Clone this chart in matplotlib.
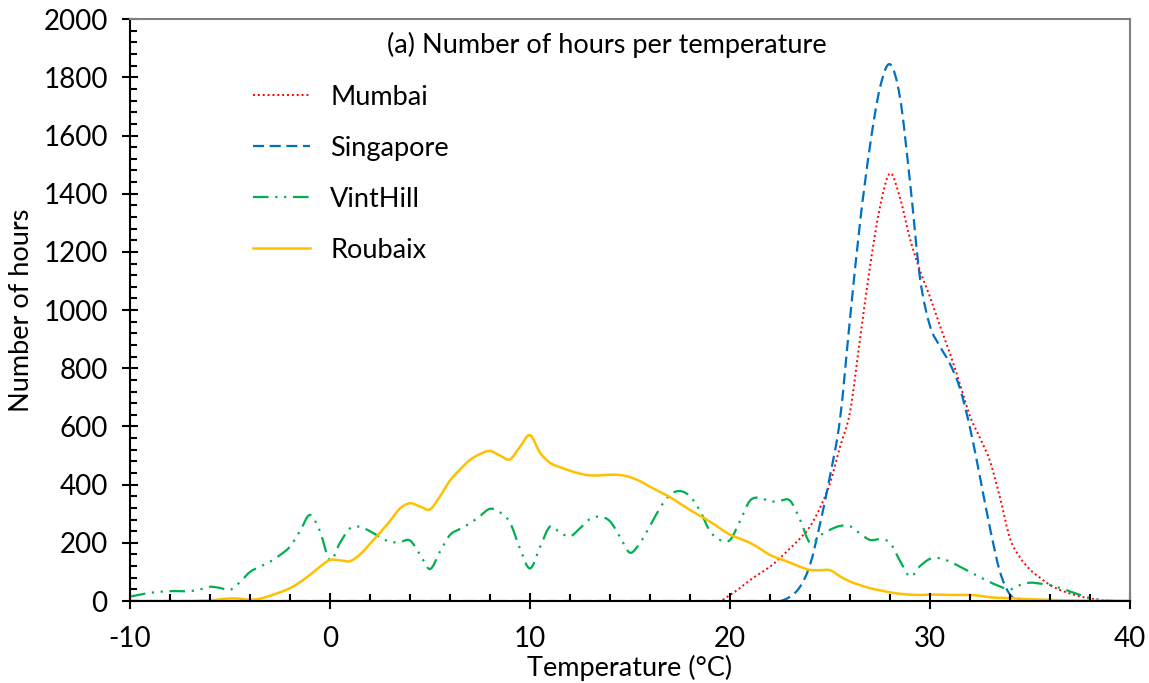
import matplotlib
matplotlib.use("Agg")
import matplotlib.pyplot as plt
from matplotlib.lines import Line2D
from matplotlib.patches import PathPatch
from matplotlib.path import Path
from matplotlib.ticker import MultipleLocator

plt.rcParams["font.family"] = ["Lato", "DejaVu Sans"]
plt.rcParams["axes.unicode_minus"] = False

# temperature bins (degC), 0.5 step
temps = [t / 2 for t in range(-20, 81)]

mumbai = [0] * 60 + [
    21, 45, 72, 95, 118, 148, 181, 215, 256, 320,
    405, 530, 650, 900, 1150, 1355, 1470, 1385, 1245, 1135,
    1045, 945, 850, 745, 635, 560, 480, 355, 215, 150,
    108, 80, 55, 38, 26, 16, 9, 4, 1, 0, 0,
]

singapore = [0] * 66 + [
    15, 49, 124, 265, 430, 625, 970, 1300, 1565, 1765,
    1845, 1730, 1440, 1110, 945, 875, 815, 730, 595, 425,
    250, 100, 22, 3, 0, 0, 0, 0, 0, 0, 0, 0, 0, 0, 0,
]

vinthill = [
    15, 22, 28, 32, 34, 34, 34, 40, 49, 45,
    38, 65, 100, 118, 135, 158, 187, 240, 296, 240,
    140, 200, 250, 255, 240, 220, 203, 203, 208, 160,
    110, 170, 227, 248, 267, 292, 317, 305, 270, 180,
    112, 185, 256, 235, 222, 250, 282, 290, 274, 220,
    166, 200, 258, 320, 365, 378, 360, 310, 240, 210,
    210, 275, 345, 355, 342, 345, 345, 280, 200, 225,
    245, 258, 257, 232, 210, 212, 200, 138, 84, 120,
    145, 147, 135, 118, 100, 82, 65, 50, 40, 55,
    63, 60, 55, 45, 33, 21, 10, 3, 1, 0, 0,
]

roubaix = [
    0, 0, 0, 0, 0, 0, 0, 1, 2, 6,
    9, 8, 4, 8, 18, 30, 44, 65, 90, 118,
    141, 140, 137, 160, 197, 235, 275, 318, 336, 325,
    315, 360, 414, 452, 485, 505, 516, 500, 487, 530,
    570, 510, 475, 460, 448, 438, 432, 432, 434, 433,
    426, 412, 393, 375, 357, 335, 313, 293, 273, 250,
    228, 214, 200, 180, 158, 145, 132, 118, 107, 106,
    106, 85, 67, 55, 44, 37, 30, 25, 22, 21,
    22, 22, 21, 21, 21, 18, 13, 11, 10, 8,
    6, 5, 4, 3, 2, 2, 1, 1, 1, 1, 1,
]

series = [
    ("Mumbai", mumbai, "#FF0000", (0, (1, 1.5)), 1.4),
    ("Singapore", singapore, "#0070C0", (0, (5, 2.5)), 1.6),
    ("VintHill", vinthill, "#00B050", (0, (7, 3, 1, 3, 1, 3)), 1.6),
    ("Roubaix", roubaix, "#FFC000", "-", 1.8),
]


def smooth_path(xs, ys):
    """Excel-like smoothed line: cubic Bezier segments through the points."""
    pts = list(zip(xs, ys))
    verts = [pts[0]]
    codes = [Path.MOVETO]
    n = len(pts)
    for i in range(n - 1):
        p0 = pts[max(i - 1, 0)]
        p1 = pts[i]
        p2 = pts[i + 1]
        p3 = pts[min(i + 2, n - 1)]
        c1 = (p1[0] + (p2[0] - p0[0]) / 6, p1[1] + (p2[1] - p0[1]) / 6)
        c2 = (p2[0] - (p3[0] - p1[0]) / 6, p2[1] - (p3[1] - p1[1]) / 6)
        verts += [c1, c2, p2]
        codes += [Path.CURVE4] * 3
    return Path(verts, codes)


fig = plt.figure(figsize=(11.49, 6.83), dpi=100)
ax = fig.add_axes([0.1131, 0.120, 0.8704, 0.852])

handles = []
for name, vals, color, ls, lw in series:
    patch = PathPatch(smooth_path(temps, vals), facecolor="none", edgecolor=color,
                      linestyle=ls, linewidth=lw)
    ax.add_patch(patch)
    handles.append(Line2D([], [], color=color, linestyle=ls, linewidth=lw, label=name))

ax.set_xlim(-10, 40)
ax.set_ylim(0, 2000)
ax.xaxis.set_major_locator(MultipleLocator(10))
ax.xaxis.set_minor_locator(MultipleLocator(2))
ax.yaxis.set_major_locator(MultipleLocator(200))
ax.yaxis.set_minor_locator(MultipleLocator(40))

ax.tick_params(which="major", direction="inout", length=12, width=1.5,
               labelsize=20)
ax.tick_params(axis="x", which="major", pad=12)
ax.tick_params(axis="y", which="major", pad=10)
ax.tick_params(which="minor", direction="in", length=5, width=1.5)

for side in ["left", "bottom"]:
    ax.spines[side].set_linewidth(1.5)
    ax.spines[side].set_color("black")
for side in ["top", "right"]:
    ax.spines[side].set_linewidth(1.5)
    ax.spines[side].set_color("#808080")

ax.set_xlabel("Temperature (°C)", fontsize=19.5, labelpad=2)
ax.set_ylabel("Number of hours", fontsize=19.5, labelpad=7)

ax.text(0.477, 0.955, "(a) Number of hours per temperature", transform=ax.transAxes,
        fontsize=19.5, ha="center", va="center")

ax.legend(handles=handles, loc="upper left", bbox_to_anchor=(0.123, 0.887),
          frameon=False, fontsize=19.5, handlelength=2.1, handletextpad=0.75,
          labelspacing=0.96, borderpad=0, borderaxespad=0)

fig.savefig("out.png", dpi=100)
